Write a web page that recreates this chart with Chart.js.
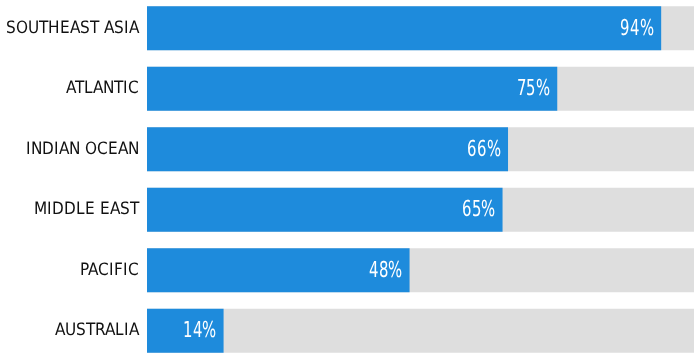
<!DOCTYPE html>
<html>
<head>
<meta charset="utf-8">
<script src="https://cdn.jsdelivr.net/npm/chart.js@4"></script>
<style>
@font-face { font-family: 'CondA'; src: local('Liberation Sans Narrow'), local('LiberationSansNarrow-Regular'); }
@font-face { font-family: 'CondB'; src: local('DejaVu Sans Condensed'), local('DejaVuSansCondensed'); }
html,body{margin:0;padding:0;background:#fff;overflow:hidden;}
#wrap{width:700px;height:363px;position:relative;top:-2px;}
</style>
</head>
<body>
<div id="wrap"><canvas id="c"></canvas></div>
<script>
const categories = ["SOUTHEAST ASIA", "ATLANTIC", "INDIAN OCEAN", "MIDDLE EAST", "PACIFIC", "AUSTRALIA"];
const shares = [94, 75, 66, 65, 48, 14];
const fullScale = [100, 100, 100, 100, 100, 100];

const FONT = "CondA, CondB, sans-serif";

const valueLabels = {
  id: 'valueLabels',
  afterDatasetsDraw(chart) {
    const ctx = chart.ctx;
    const meta = chart.getDatasetMeta(0);
    ctx.save();
    ctx.fillStyle = '#ffffff';
    ctx.font = "22px " + FONT;
    ctx.textAlign = 'right';
    ctx.textBaseline = 'middle';
    meta.data.forEach((bar, i) => {
      ctx.save();
      ctx.translate(bar.x - 7, bar.y + 1);
      ctx.scale(0.75, 1);
      ctx.fillText(shares[i] + '%', 0, 0);
      ctx.restore();
    });
    ctx.restore();
  }
};

function build() {
  new Chart(document.getElementById('c'), {
    type: 'bar',
    data: {
      labels: categories,
      datasets: [
        { data: shares, backgroundColor: '#1e8bdc', grouped: false, barPercentage: 0.73, categoryPercentage: 1 },
        { data: fullScale, backgroundColor: '#dedede', grouped: false, barPercentage: 0.73, categoryPercentage: 1 }
      ]
    },
    options: {
      indexAxis: 'y',
      responsive: true,
      maintainAspectRatio: false,
      animation: false,
      layout: { autoPadding: false, padding: { top: 0, bottom: 0, left: 0, right: 6 } },
      plugins: { legend: { display: false }, tooltip: { enabled: false } },
      scales: {
        x: { display: false, min: 0, max: 100 },
        y: {
          grid: { display: false, drawTicks: false },
          border: { display: false },
          ticks: { color: '#111111', font: { family: FONT, size: 16.5 }, padding: 8 },
          afterFit(scale) { scale.width = 147; scale.paddingTop = 0; scale.paddingBottom = 0; }
        }
      }
    },
    plugins: [valueLabels]
  });
}
Promise.all([
  document.fonts.load("19px CondA"), document.fonts.load("19px CondB")
]).catch(() => {}).then(build);
</script>
</body>
</html>
